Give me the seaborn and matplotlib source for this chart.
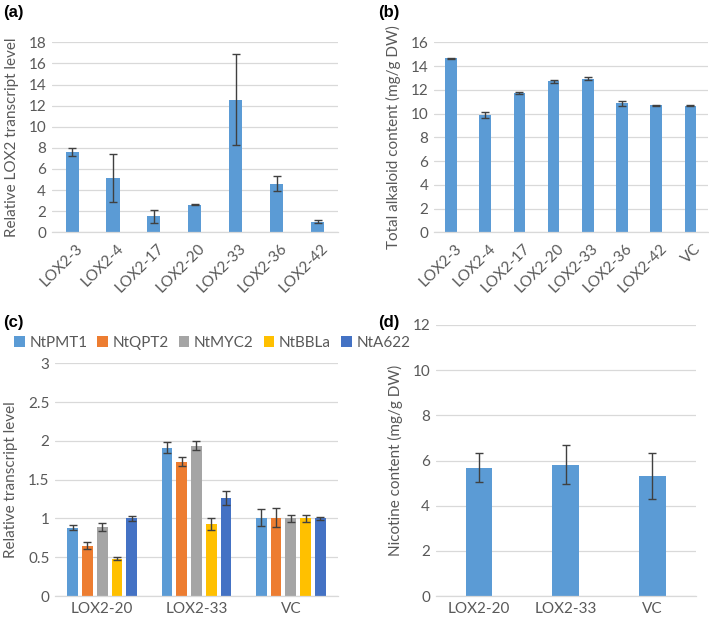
import numpy as np
import pandas as pd
import matplotlib
matplotlib.use("Agg")
import matplotlib.pyplot as plt
import matplotlib.transforms as mtransforms
import seaborn as sns
from matplotlib.patches import Patch

sns.set_theme(style="white")
plt.rcParams['font.family'] = ['Lato', 'DejaVu Sans']

# ---- data ----
a_lines = ["LOX2-3", "LOX2-4", "LOX2-17", "LOX2-20", "LOX2-33", "LOX2-36", "LOX2-42"]
a_vals = [7.6, 5.15, 1.5, 2.6, 12.55, 4.6, 1.0]
a_err = [0.4, 2.3, 0.6, 0.05, 4.3, 0.7, 0.15]

b_lines = ["LOX2-3", "LOX2-4", "LOX2-17", "LOX2-20", "LOX2-33", "LOX2-36", "LOX2-42", "VC"]
b_vals = [14.65, 9.85, 11.75, 12.7, 12.95, 10.85, 10.7, 10.65]
b_err = [0.05, 0.25, 0.1, 0.1, 0.15, 0.2, 0.03, 0.03]

c_lines = ["LOX2-20", "LOX2-33", "VC"]
c_genes = ["NtPMT1", "NtQPT2", "NtMYC2", "NtBBLa", "NtA622"]
c_vals = {
    "NtPMT1": [0.88, 1.91, 1.01],
    "NtQPT2": [0.65, 1.73, 1.01],
    "NtMYC2": [0.89, 1.94, 1.00],
    "NtBBLa": [0.48, 0.93, 1.00],
    "NtA622": [1.00, 1.26, 1.00],
}
c_err = {
    "NtPMT1": [0.03, 0.07, 0.11],
    "NtQPT2": [0.05, 0.06, 0.12],
    "NtMYC2": [0.05, 0.06, 0.04],
    "NtBBLa": [0.02, 0.08, 0.04],
    "NtA622": [0.03, 0.09, 0.02],
}
c_colors = ["#5B9BD5", "#ED7D31", "#A5A5A5", "#FFC000", "#4472C4"]

d_lines = ["LOX2-20", "LOX2-33", "VC"]
d_vals = [5.68, 5.82, 5.30]
d_err = [0.65, 0.88, 1.02]

BLUE = "#5B9BD5"
TXT = "#595959"
GRID = "#D9D9D9"
ERR = "#404040"
FS = 11

fig = plt.figure(figsize=(7.09, 6.19), dpi=100)
axA = fig.add_axes([0.0729, 0.6247, 0.4038, 0.3070])
axB = fig.add_axes([0.6120, 0.6247, 0.3860, 0.3070])
axC = fig.add_axes([0.0776, 0.0371, 0.3991, 0.3760])
axD = fig.add_axes([0.6145, 0.0371, 0.3667, 0.4379])


def style(ax, ylim, step, ylabel, labx, fmt=None):
    ax.set_ylim(*ylim)
    ticks = np.arange(ylim[0], ylim[1] + step / 2, step)
    ax.set_yticks(ticks)
    if fmt:
        ax.set_yticklabels([fmt(t) for t in ticks])
    ax.yaxis.grid(True, color=GRID, lw=0.9)
    ax.set_axisbelow(True)
    for s in ["top", "right", "left"]:
        ax.spines[s].set_visible(False)
    ax.spines["bottom"].set_color(GRID)
    ax.spines["bottom"].set_linewidth(0.9)
    ax.tick_params(length=0, labelsize=FS, colors=TXT, pad=4)
    ax.set_ylabel(ylabel, fontsize=FS, color=TXT)
    ax.yaxis.set_label_coords(labx, 0.5)
    ax.set_xlabel("")


def add_err(ax, container, vals, errs):
    xs = [p.get_x() + p.get_width() / 2 for p in container]
    ax.errorbar(xs, vals, yerr=errs, fmt="none", ecolor=ERR, elinewidth=1.0,
                capsize=3, capthick=1.0, zorder=5)


def rotate_labels(ax):
    off = mtransforms.ScaledTranslation(6 / 72, -6 / 72, fig.dpi_scale_trans)
    for lab in ax.get_xticklabels():
        lab.set_rotation(45)
        lab.set_ha("right")
        lab.set_va("center")
        lab.set_rotation_mode("anchor")
        lab.set_transform(lab.get_transform() + off)


# (a)
sns.barplot(x=a_lines, y=a_vals, color=BLUE, width=0.32, ax=axA,
            errorbar=None, saturation=1, linewidth=0)
add_err(axA, axA.containers[0], a_vals, a_err)
style(axA, (0, 18), 2, "Relative LOX2 transcript level", -0.114)
axA.set_xlim(-0.5, len(a_lines) - 0.5)
rotate_labels(axA)

# (b)
sns.barplot(x=b_lines, y=b_vals, color=BLUE, width=0.34, ax=axB,
            errorbar=None, saturation=1, linewidth=0)
add_err(axB, axB.containers[0], b_vals, b_err)
style(axB, (0, 16), 2, "Total alkaloid content (mg/g DW)", -0.120)
axB.set_xlim(-0.5, len(b_lines) - 0.5)
rotate_labels(axB)

# (c)
dfc = pd.DataFrame([(l, g, c_vals[g][i]) for g in c_genes for i, l in enumerate(c_lines)],
                   columns=["line", "gene", "val"])
sns.barplot(data=dfc, x="line", y="val", hue="gene", order=c_lines, hue_order=c_genes,
            palette=c_colors, width=0.78, gap=0.27, ax=axC, errorbar=None,
            saturation=1, linewidth=0, legend=False)
for g, cont in zip(c_genes, axC.containers):
    add_err(axC, cont, c_vals[g], c_err[g])
style(axC, (0, 3), 0.5, "Relative transcript level", -0.130,
      fmt=lambda t: ("%g" % t))
axC.set_xlim(-0.5, len(c_lines) - 0.5)
handles = [Patch(facecolor=c, edgecolor="none") for c in c_colors]
fig.legend(handles, c_genes, loc="center left", bbox_to_anchor=(14 / 709, 1 - 343 / 619),
           ncol=5, frameon=False, fontsize=FS, labelcolor=TXT,
           handlelength=0.7, handleheight=0.7, handletextpad=0.3, columnspacing=0.65,
           borderaxespad=0, borderpad=0)

# (d)
sns.barplot(x=d_lines, y=d_vals, color=BLUE, width=0.31, ax=axD,
            errorbar=None, saturation=1, linewidth=0)
add_err(axD, axD.containers[0], d_vals, d_err)
style(axD, (0, 12), 2, "Nicotine content (mg/g DW)", -0.126)
axD.set_xlim(-0.5, len(d_lines) - 0.5)

# panel labels
for lab, x, y in [("(a)", 3, 12), ("(b)", 378, 12), ("(c)", 3, 322), ("(d)", 378, 322)]:
    fig.text(x / 709, 1 - y / 619, lab, fontsize=12, fontweight="bold", color="black",
             ha="left", va="center", family=["Liberation Sans", "DejaVu Sans"])

fig.savefig("out.png", dpi=100)
